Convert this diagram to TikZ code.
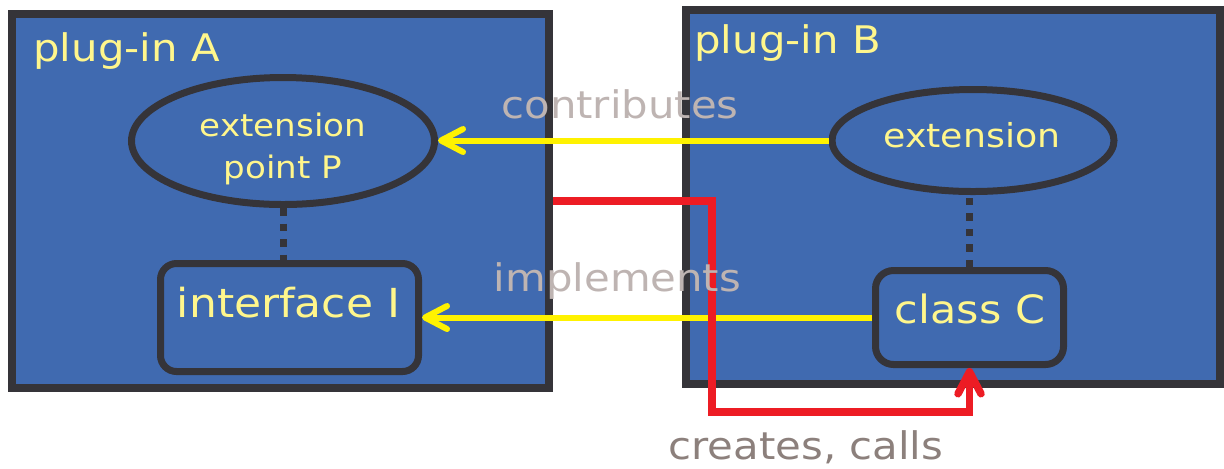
\documentclass[tikz,border=0pt]{standalone}
\usepackage{fontspec}
\setmainfont[FakeStretch=1.1]{DejaVu Sans}
\usepackage{xcolor}
\definecolor{piBlue}{HTML}{406AB0}
\definecolor{piEdge}{HTML}{353439}
\definecolor{piText}{HTML}{FFF68C}
\definecolor{piArrow}{HTML}{FFF200}
\definecolor{piRed}{HTML}{ED1C24}
\definecolor{piGrey}{HTML}{BEB4B2}
\definecolor{piTaupe}{HTML}{8C807C}
\usepackage{tikz}
\usetikzlibrary{arrows.meta,calc,shapes.geometric}

\begin{document}
\begin{tikzpicture}[x=0.5pt,y=-0.5pt,
      every node/.style={font=\fontsize{19}{23}\selectfont,text=piText},
      plugbox/.style={rectangle,draw=piEdge,fill=piBlue,line width=4pt,
                      inner sep=0pt},
      extoval/.style={ellipse,draw=piEdge,fill=piBlue,line width=3.5pt,
                      inner sep=0pt},
      typebox/.style={rectangle,rounded corners=8pt,draw=piEdge,fill=piBlue,
                      line width=3.5pt,inner sep=0pt},
      boxtitle/.style={anchor=base west,inner sep=0pt},
      shapetext/.style={inner sep=0pt},
      reltext/.style={anchor=base,inner sep=0pt,text=piGrey},
      relarrow/.style={-{Straight Barb[length=11pt,width=11.5pt,round]},
                       line width=3pt,piArrow},
      callarrow/.style={-{Straight Barb[length=11pt,width=11.5pt,round]},
                        line width=3.75pt,piRed},
      dotline/.style={line width=3.5pt,piEdge,dash pattern=on 3.75pt off 4pt},
    ]
    \useasboundingbox (0,0) rectangle (1224,468);

    % --- plug-in boxes ---
    \node[plugbox,minimum width=268.5pt,minimum height=187pt] (plugA) at (280.5,201) {};
    \node[plugbox,minimum width=267pt,minimum height=186.75pt] (plugB) at (953,196.75) {};
    \node[boxtitle] (titleA) at (33,61) {plug-in A};
    \node[boxtitle] (titleB) at (694,53) {plug-in B};

    % --- plug-in A: extension point and interface ---
    \node[extoval,minimum width=151.5pt,minimum height=63.5pt] (pointP) at (283,141) {};
    \node[shapetext,align=center,font=\fontsize{15.5}{21}\selectfont] (pointPtext)
      at (283,148.5) {extension\\point P};
    \node[typebox,minimum width=129pt,minimum height=54pt] (iface) at (289.5,317.5) {};
    \node[shapetext,anchor=base,font=\fontsize{20}{24}\selectfont] (ifaceText)
      at (288.5,317) {interface I};

    % --- plug-in B: extension and class ---
    \node[extoval,minimum width=141pt,minimum height=51pt] (ext) at (973,140.5) {};
    \node[shapetext,anchor=base,font=\fontsize{16.5}{20}\selectfont] (extText)
      at (972,147) {extension};
    \node[typebox,rounded corners=9pt,minimum width=94pt,minimum height=47pt] (classC)
      at (969.5,317.5) {};
    \node[shapetext,anchor=base,font=\fontsize{19.5}{23}\selectfont] (classText)
      at (970,323) {class C};

    % --- dotted ties ---
    \draw[dotline] (pointP.south) -- (pointP.south |- iface.north);
    \draw[dotline] (classC.north) -- (classC.north |- ext.south);

    % --- relations ---
    \draw[relarrow] (ext.west) -- (ext.west -| pointP.east);
    \draw[relarrow] (classC.west) -- (iface.east);
    \coordinate (detour) at (712,412);
    \draw[callarrow] (plugA.east) -| (detour) -| (classC.south);

    \node[reltext] (contrib) at (620,118) {contributes};
    \node[reltext] (impl) at (617.5,291) {implements};
    \node[reltext,text=piTaupe] (creates) at (806,459) {creates, calls};

  \end{tikzpicture}
\end{document}
